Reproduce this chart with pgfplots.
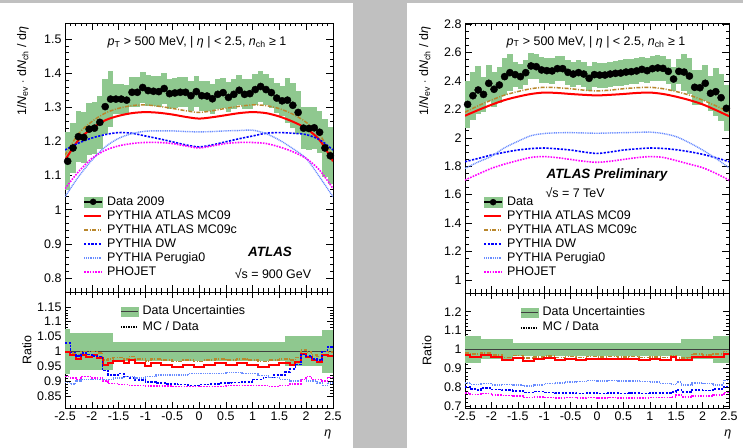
\documentclass[border=0pt]{standalone}
\usepackage{fontspec}
\setmainfont{Liberation Sans}
\usepackage{pgfplots}
\usepackage{pgfplotstable}
\pgfplotsset{compat=1.18}

\definecolor{bg}{RGB}{192,192,192}
\definecolor{band}{RGB}{143,200,143}
\definecolor{mcred}{RGB}{255,0,0}
\definecolor{mcbrown}{RGB}{185,135,45}
\definecolor{dwblue}{RGB}{0,0,255}
\definecolor{perlb}{RGB}{105,140,255}
\definecolor{phomag}{RGB}{255,0,255}

\newcommand{\fnt}{\fontsize{12.5}{14.4}\selectfont}

\pgfplotsset{
  atl/.style={scale only axis, anchor=south west,
    tick align=inside, tick pos=both,
    /pgf/number format/assume math mode=true,
    tick label style={font=\fnt},
    label style={font=\fnt},
    major tick length=7bp, minor tick length=3.5bp,
    xmin=-2.5, xmax=2.5,
    xtick={-2.5,-2,-1.5,-1,-0.5,0,0.5,1,1.5,2,2.5},
    minor x tick num=4,
    axis line style={black, line width=0.7pt},
    every tick/.style={black, line width=0.5pt},
    legend cell align=left,
    legend style={draw=none, fill=none, inner sep=0pt, font=\fnt, row sep=0pt,
      /tikz/every odd column/.append style={column sep=3.5bp},
      nodes={inner sep=0.6bp, text height=9.6bp, text depth=3.2bp}},
  },
  mc09/.style={mcred, line width=2bp, mark=none},
  mc09c/.style={mcbrown, line width=1.5bp, mark=none, dash pattern=on 4bp off 1.5bp on 1bp off 1.5bp},
  dw/.style={dwblue, line width=1.6bp, mark=none, dash pattern=on 2.2bp off 1.4bp},
  per/.style={perlb, line width=1.4bp, mark=none, dash pattern=on 1bp off 0.8bp},
  pho/.style={phomag, line width=1.6bp, mark=none, dash pattern=on 1.6bp off 1.2bp},
  bandbars/.style={draw=none, mark=none, forget plot,
    error bars/.cd, y dir=both, y explicit relative,
    error mark=none, error bar style={draw=band, line width=#1}},
}

% left (900 GeV) data: eta, dN/deta, rel. uncertainty
\pgfplotstableread{
x y e
-2.45 1.142 0.075
-2.35 1.181 0.062
-2.25 1.214 0.062
-2.15 1.212 0.062
-2.05 1.236 0.062
-1.95 1.239 0.062
-1.85 1.256 0.062
-1.75 1.302 0.062
-1.65 1.324 0.062
-1.55 1.324 0.033
-1.45 1.324 0.033
-1.35 1.321 0.033
-1.25 1.344 0.033
-1.15 1.344 0.033
-1.05 1.358 0.033
-0.95 1.349 0.033
-0.85 1.347 0.033
-0.75 1.346 0.033
-0.65 1.355 0.033
-0.55 1.340 0.033
-0.45 1.342 0.033
-0.35 1.344 0.033
-0.25 1.344 0.033
-0.15 1.334 0.033
-0.05 1.346 0.033
0.05 1.334 0.033
0.15 1.333 0.033
0.25 1.325 0.033
0.35 1.338 0.033
0.45 1.343 0.033
0.55 1.329 0.033
0.65 1.338 0.033
0.75 1.350 0.033
0.85 1.338 0.033
0.95 1.340 0.033
1.05 1.352 0.033
1.15 1.361 0.033
1.25 1.352 0.033
1.35 1.343 0.033
1.45 1.327 0.033
1.55 1.319 0.033
1.65 1.321 0.050
1.75 1.306 0.050
1.85 1.285 0.050
1.95 1.239 0.050
2.05 1.238 0.050
2.15 1.240 0.050
2.25 1.227 0.050
2.35 1.181 0.072
2.45 1.158 0.072
}\dataL

% right (7 TeV) data
\pgfplotstableread{
x y e
-2.45 2.235 0.073
-2.35 2.296 0.073
-2.25 2.336 0.073
-2.15 2.305 0.053
-2.05 2.383 0.053
-1.95 2.341 0.053
-1.85 2.371 0.053
-1.75 2.430 0.053
-1.65 2.458 0.053
-1.55 2.444 0.036
-1.45 2.430 0.036
-1.35 2.458 0.036
-1.25 2.505 0.036
-1.15 2.500 0.036
-1.05 2.477 0.036
-0.95 2.472 0.036
-0.85 2.470 0.036
-0.75 2.486 0.036
-0.65 2.486 0.036
-0.55 2.460 0.036
-0.45 2.448 0.036
-0.35 2.458 0.036
-0.25 2.448 0.036
-0.15 2.418 0.036
-0.05 2.444 0.036
0.05 2.441 0.036
0.15 2.441 0.036
0.25 2.448 0.036
0.35 2.453 0.036
0.45 2.455 0.036
0.55 2.462 0.036
0.65 2.465 0.036
0.75 2.470 0.036
0.85 2.481 0.036
0.95 2.472 0.036
1.05 2.486 0.036
1.15 2.491 0.036
1.25 2.488 0.036
1.35 2.467 0.036
1.45 2.413 0.036
1.55 2.467 0.036
1.65 2.462 0.053
1.75 2.434 0.053
1.85 2.355 0.053
1.95 2.352 0.053
2.05 2.383 0.053
2.15 2.313 0.053
2.25 2.324 0.073
2.35 2.282 0.073
2.45 2.207 0.073
}\dataR

\begin{document}
\begin{tikzpicture}
\useasboundingbox (0,0) rectangle (743bp,448bp);
\fill[bg] (0,0) rectangle (743bp,448bp);
\fill[white] (0,0) rectangle (353bp,445bp);
\fill[white] (407bp,0) rectangle (743bp,445bp);

%================ LEFT UPPER =================
\begin{axis}[atl, at={(65bp,156bp)}, width=268bp, height=269bp,
  ymin=0.759, ymax=1.547,
  ytick={0.8,0.9,1,1.1,1.2,1.3,1.4,1.5}, minor y tick num=4,
  xticklabels={},
  ylabel={1/\textit{N}\textsubscript{ev} $\cdot$ d\textit{N}\textsubscript{ch} / d\textit{η}},
  ylabel style={at={(axis description cs:-0.157,1)}, anchor=east},
  legend style={at={(axis description cs:0.067,0.362)}, anchor=north west}]
\addplot[bandbars=5.6bp] table[x=x, y=y, y error=e] {\dataL};
\addplot[mc09, smooth, forget plot] coordinates {(-2.5,1.145) (-2.25,1.204) (-2,1.238) (-1.75,1.262) (-1.5,1.275) (-1.25,1.283) (-1,1.286) (-0.75,1.284) (-0.5,1.279) (-0.25,1.272) (0,1.267) (0.25,1.271) (0.5,1.277) (0.75,1.283) (1,1.286) (1.25,1.283) (1.5,1.273) (1.75,1.258) (2,1.238) (2.25,1.204) (2.5,1.142)};
\addplot[mc09c, smooth, forget plot] coordinates {(-2.5,1.16) (-2.25,1.222) (-2,1.258) (-1.75,1.283) (-1.5,1.297) (-1.25,1.305) (-1,1.307) (-0.75,1.303) (-0.5,1.297) (-0.25,1.29) (0,1.285) (0.25,1.29) (0.5,1.297) (0.75,1.303) (1,1.307) (1.25,1.305) (1.5,1.296) (1.75,1.28) (2,1.256) (2.25,1.22) (2.5,1.155)};
\addplot[dw, smooth, forget plot] coordinates {(-2.5,1.175) (-2.25,1.195) (-2,1.21) (-1.75,1.22) (-1.5,1.226) (-1.25,1.224) (-1,1.216) (-0.75,1.208) (-0.5,1.199) (-0.25,1.19) (0,1.184) (0.25,1.19) (0.5,1.199) (0.75,1.208) (1,1.216) (1.25,1.224) (1.5,1.226) (1.75,1.224) (2,1.22) (2.25,1.205) (2.5,1.175)};
\addplot[per, smooth, forget plot] coordinates {(-2.5,1.038) (-2.25,1.096) (-2,1.145) (-1.75,1.184) (-1.5,1.209) (-1.25,1.223) (-1,1.23) (-0.75,1.231) (-0.5,1.231) (-0.25,1.229) (0,1.228) (0.25,1.229) (0.5,1.231) (0.75,1.232) (1,1.233) (1.25,1.223) (1.5,1.204) (1.75,1.179) (2,1.15) (2.25,1.096) (2.5,1.038)};
\addplot[pho, smooth, forget plot] coordinates {(-2.5,1.062) (-2.25,1.111) (-2,1.15) (-1.75,1.174) (-1.5,1.187) (-1.25,1.194) (-1,1.197) (-0.75,1.197) (-0.5,1.194) (-0.25,1.187) (0,1.181) (0.25,1.187) (0.5,1.194) (0.75,1.197) (1,1.197) (1.25,1.194) (1.5,1.184) (1.75,1.17) (2,1.15) (2.25,1.116) (2.5,1.062)};
\addplot[only marks, mark=*, mark size=3.6bp, black, forget plot] table[x=x, y=y] {\dataL};
\addlegendimage{legend image code/.code={
  \fill[band] (0bp,-5bp) rectangle (18bp,5bp);
  \draw[black, line width=1.6bp] (0bp,0bp) -- (18bp,0bp);
  \fill[black] (9bp,0bp) circle (3bp);}}
\addlegendentry{Data 2009}
\addlegendimage{mc09}\addlegendentry{PYTHIA ATLAS MC09}
\addlegendimage{mc09c}\addlegendentry{PYTHIA ATLAS MC09c}
\addlegendimage{dw}\addlegendentry{PYTHIA DW}
\addlegendimage{per}\addlegendentry{PYTHIA Perugia0}
\addlegendimage{pho}\addlegendentry{PHOJET}
\node[font=\fnt] at (axis description cs:0.4925,0.929) {\textit{p}\textsubscript{T} > 500 MeV, | \textit{η} | < 2.5, \textit{n}\textsubscript{ch} ≥ 1};
\node[font=\fontsize{13.5}{15}\selectfont\bfseries\itshape] at (axis description cs:0.765,0.149) {ATLAS};
\node[font=\fnt] at (axis description cs:0.776,0.067) {√s = 900 GeV};
\end{axis}

%================ LEFT RATIO =================
\begin{axis}[atl, at={(65bp,40bp)}, width=268bp, height=116bp,
  ymin=0.809, ymax=1.2,
  ytick={0.85,0.9,0.95,1,1.05,1.1,1.15}, minor y tick num=4,
  major tick length=6bp, minor tick length=3bp,
  ylabel={Ratio},
  ylabel style={at={(axis description cs:-0.142,0.5)}, anchor=center},
  xlabel={\textit{η}},
  xlabel style={at={(axis description cs:0.981,-0.224)}, anchor=center},
  legend style={at={(axis description cs:0.205,0.895)}, anchor=north west, row sep=1.5bp}]
\addplot[bandbars=5.6bp] table[x=x, y expr=1, y error=e] {\dataL};
\addplot[black!75, line width=0.8bp, forget plot] coordinates {(-2.5,1) (2.5,1)};
\addplot[mc09c, const plot mark left, forget plot] coordinates {(-2.5,1.0) (-2.4,0.995) (-2.3,0.99) (-2.2,1.0) (-2.0,1.0) (-1.9,0.995) (-1.8,0.97) (-1.7,0.975) (-1.6,0.98) (-1.4,0.975) (-1.3,0.983) (-1.2,0.975) (-1.0,0.968) (-0.9,0.975) (-0.7,0.97) (-0.5,0.966) (-0.3,0.97) (-0.1,0.965) (0.1,0.97) (0.3,0.975) (0.5,0.97) (0.7,0.975) (0.9,0.97) (1.1,0.965) (1.3,0.97) (1.5,0.975) (1.7,0.97) (1.8,0.98) (1.9,1.005) (2.0,0.998) (2.1,0.988) (2.2,0.982) (2.3,1.0) (2.4,0.998) (2.5,0.998)};
\addplot[mc09, const plot mark left, forget plot] coordinates {(-2.5,0.998) (-2.4,0.987) (-2.3,0.973) (-2.2,0.987) (-2.1,0.981) (-2.0,0.987) (-1.9,0.979) (-1.8,0.953) (-1.7,0.959) (-1.6,0.967) (-1.4,0.962) (-1.3,0.97) (-1.2,0.959) (-1.0,0.95) (-0.9,0.959) (-0.7,0.953) (-0.5,0.948) (-0.3,0.953) (-0.1,0.946) (0.1,0.953) (0.3,0.959) (0.5,0.953) (0.7,0.959) (0.9,0.953) (1.1,0.946) (1.3,0.953) (1.5,0.961) (1.7,0.953) (1.8,0.964) (1.9,0.99) (2.0,0.981) (2.1,0.97) (2.2,0.964) (2.3,0.987) (2.4,0.983) (2.5,0.983)};
\addplot[dw, const plot mark left, forget plot] coordinates {(-2.5,1.028) (-2.4,0.996) (-2.3,0.985) (-2.2,0.995) (-2.1,0.99) (-2.0,0.985) (-1.9,0.982) (-1.8,0.935) (-1.7,0.92) (-1.5,0.925) (-1.4,0.915) (-1.3,0.91) (-1.2,0.903) (-1.0,0.897) (-0.8,0.893) (-0.6,0.89) (-0.4,0.888) (-0.2,0.885) (0,0.888) (0.2,0.89) (0.4,0.893) (0.6,0.895) (0.8,0.897) (1.0,0.905) (1.2,0.912) (1.4,0.92) (1.6,0.93) (1.7,0.94) (1.8,0.955) (1.9,0.99) (2.0,0.985) (2.1,0.975) (2.2,0.97) (2.3,1.0) (2.4,1.015) (2.5,1.015)};
\addplot[per, const plot mark left, forget plot] coordinates {(-2.5,0.895) (-2.4,0.89) (-2.3,0.9) (-2.2,0.905) (-2.0,0.905) (-1.8,0.905) (-1.6,0.91) (-1.4,0.915) (-1.2,0.91) (-1.0,0.915) (-0.8,0.92) (-0.5,0.92) (-0.2,0.925) (0.2,0.925) (0.5,0.928) (0.8,0.925) (1.1,0.918) (1.3,0.912) (1.5,0.905) (1.7,0.9) (1.9,0.905) (2.0,0.9) (2.2,0.893) (2.3,0.885) (2.4,0.893) (2.5,0.893)};
\addplot[pho, const plot mark left, forget plot] coordinates {(-2.5,0.915) (-2.4,0.91) (-2.3,0.905) (-2.2,0.915) (-2.0,0.91) (-1.8,0.9) (-1.7,0.892) (-1.5,0.888) (-1.3,0.885) (-1.0,0.883) (-0.5,0.882) (0,0.882) (0.5,0.885) (1.0,0.885) (1.3,0.882) (1.5,0.885) (1.7,0.89) (1.9,0.905) (2.0,0.915) (2.1,0.905) (2.3,0.9) (2.4,0.912) (2.5,0.912)};
\addlegendimage{legend image code/.code={
  \fill[band] (0bp,-4.5bp) rectangle (17bp,4.5bp);
  \draw[black!75, line width=0.8bp] (0bp,0bp) -- (17bp,0bp);}}
\addlegendentry{Data Uncertainties}
\addlegendimage{black, line width=1.5bp, mark=none, dash pattern=on 1.5bp off 1bp}
\addlegendentry{MC / Data}
\end{axis}

%================ RIGHT UPPER =================
\begin{axis}[atl, at={(465bp,155bp)}, width=264bp, height=270bp,
  ymin=0.909, ymax=2.807,
  ytick={1,1.2,1.4,1.6,1.8,2,2.2,2.4,2.6,2.8}, minor y tick num=3,
  xticklabels={},
  ylabel={1/\textit{N}\textsubscript{ev} $\cdot$ d\textit{N}\textsubscript{ch} / d\textit{η}},
  ylabel style={at={(axis description cs:-0.152,1)}, anchor=east},
  legend style={at={(axis description cs:0.068,0.363)}, anchor=north west}]
\addplot[bandbars=5.5bp] table[x=x, y=y, y error=e] {\dataR};
\addplot[mc09, smooth, forget plot] coordinates {(-2.5,2.155) (-2.25,2.195) (-2,2.232) (-1.75,2.265) (-1.5,2.289) (-1.25,2.308) (-1,2.318) (-0.75,2.315) (-0.5,2.308) (-0.25,2.302) (0,2.298) (0.25,2.302) (0.5,2.308) (0.75,2.315) (1,2.318) (1.25,2.308) (1.5,2.289) (1.75,2.265) (2,2.235) (2.25,2.195) (2.5,2.152)};
\addplot[mc09c, smooth, forget plot] coordinates {(-2.5,2.18) (-2.25,2.225) (-2,2.265) (-1.75,2.3) (-1.5,2.325) (-1.25,2.345) (-1,2.355) (-0.75,2.352) (-0.5,2.345) (-0.25,2.335) (0,2.33) (0.25,2.335) (0.5,2.345) (0.75,2.352) (1,2.355) (1.25,2.345) (1.5,2.325) (1.75,2.3) (2,2.265) (2.25,2.225) (2.5,2.18)};
\addplot[dw, smooth, forget plot] coordinates {(-2.5,1.832) (-2.25,1.855) (-2,1.879) (-1.75,1.898) (-1.5,1.914) (-1.25,1.924) (-1,1.928) (-0.75,1.922) (-0.5,1.914) (-0.25,1.9) (0,1.89) (0.25,1.9) (0.5,1.914) (0.75,1.922) (1,1.928) (1.25,1.925) (1.5,1.916) (1.75,1.902) (2,1.884) (2.25,1.86) (2.5,1.832)};
\addplot[per, smooth, forget plot] coordinates {(-2.5,1.785) (-2.25,1.83) (-2,1.87) (-1.75,1.93) (-1.5,1.975) (-1.25,2.015) (-1,2.03) (-0.75,2.035) (-0.5,2.036) (-0.25,2.034) (0,2.032) (0.25,2.034) (0.5,2.036) (0.75,2.038) (1,2.04) (1.25,2.03) (1.5,2.008) (1.75,1.965) (2,1.914) (2.25,1.855) (2.5,1.79)};
\addplot[pho, smooth, forget plot] coordinates {(-2.5,1.703) (-2.25,1.745) (-2,1.785) (-1.75,1.815) (-1.5,1.84) (-1.25,1.862) (-1,1.868) (-0.75,1.86) (-0.5,1.848) (-0.25,1.835) (0,1.828) (0.25,1.835) (0.5,1.848) (0.75,1.86) (1,1.868) (1.25,1.862) (1.5,1.84) (1.75,1.815) (2,1.79) (2.25,1.75) (2.5,1.703)};
\addplot[only marks, mark=*, mark size=3.6bp, black, forget plot] table[x=x, y=y] {\dataR};
\addlegendimage{legend image code/.code={
  \fill[band] (0bp,-5bp) rectangle (18bp,5bp);
  \draw[black, line width=1.6bp] (0bp,0bp) -- (18bp,0bp);
  \fill[black] (9bp,0bp) circle (3bp);}}
\addlegendentry{Data}
\addlegendimage{mc09}\addlegendentry{PYTHIA ATLAS MC09}
\addlegendimage{mc09c}\addlegendentry{PYTHIA ATLAS MC09c}
\addlegendimage{dw}\addlegendentry{PYTHIA DW}
\addlegendimage{per}\addlegendentry{PYTHIA Perugia0}
\addlegendimage{pho}\addlegendentry{PHOJET}
\node[font=\fnt] at (axis description cs:0.496,0.93) {\textit{p}\textsubscript{T} > 500 MeV, | \textit{η} | < 2.5, \textit{n}\textsubscript{ch} ≥ 1};
\node[font=\fontsize{13.5}{15}\selectfont\bfseries\itshape] at (axis description cs:0.538,0.437) {ATLAS Preliminary};
\node[font=\fnt] at (axis description cs:0.417,0.37) {√s = 7 TeV};
\end{axis}

%================ RIGHT RATIO =================
\begin{axis}[atl, at={(465bp,40bp)}, width=264bp, height=115bp,
  ymin=0.689, ymax=1.299,
  ytick={0.7,0.8,0.9,1,1.1,1.2}, minor y tick num=4,
  major tick length=6bp, minor tick length=3bp,
  ylabel={Ratio},
  ylabel style={at={(axis description cs:-0.144,0.5)}, anchor=center},
  xlabel={\textit{η}},
  xlabel style={at={(axis description cs:0.996,-0.226)}, anchor=center},
  legend style={at={(axis description cs:0.208,0.895)}, anchor=north west, row sep=1.5bp}]
\addplot[bandbars=5.5bp] table[x=x, y expr=1, y error=e] {\dataR};
\addplot[black!75, line width=0.8bp, forget plot] coordinates {(-2.5,1) (2.5,1)};
\addplot[mc09c, const plot mark left, forget plot] coordinates {(-2.5,0.982) (-2.4,0.975) (-2.2,0.98) (-2.0,0.97) (-1.8,0.958) (-1.6,0.967) (-1.4,0.953) (-1.2,0.96) (-1.0,0.964) (-0.8,0.958) (-0.6,0.962) (-0.4,0.958) (-0.2,0.962) (0,0.96) (0.2,0.962) (0.4,0.959) (0.6,0.961) (0.8,0.958) (1.0,0.96) (1.2,0.957) (1.4,0.968) (1.5,0.955) (1.7,0.958) (1.8,0.975) (2.0,0.97) (2.2,0.975) (2.4,0.99) (2.5,0.99)};
\addplot[mc09, const plot mark left, forget plot] coordinates {(-2.5,0.968) (-2.4,0.96) (-2.2,0.968) (-2.0,0.957) (-1.8,0.945) (-1.6,0.955) (-1.4,0.94) (-1.2,0.948) (-1.0,0.952) (-0.8,0.946) (-0.6,0.95) (-0.4,0.946) (-0.2,0.95) (0,0.948) (0.2,0.95) (0.4,0.947) (0.6,0.949) (0.8,0.946) (1.0,0.948) (1.2,0.945) (1.4,0.957) (1.5,0.942) (1.7,0.946) (1.8,0.962) (2.0,0.958) (2.2,0.962) (2.4,0.978) (2.5,0.978)};
\addplot[per, const plot mark left, forget plot] coordinates {(-2.5,0.822) (-2.4,0.815) (-2.2,0.82) (-2.0,0.812) (-1.8,0.815) (-1.6,0.812) (-1.4,0.806) (-1.2,0.812) (-1.0,0.818) (-0.8,0.822) (-0.6,0.826) (-0.4,0.83) (-0.2,0.836) (0,0.832) (0.2,0.834) (0.4,0.832) (0.6,0.833) (0.8,0.83) (1.0,0.826) (1.2,0.82) (1.4,0.815) (1.5,0.826) (1.6,0.812) (1.8,0.822) (2.0,0.818) (2.2,0.812) (2.4,0.835) (2.5,0.835)};
\addplot[dw, const plot mark left, forget plot] coordinates {(-2.5,0.8) (-2.4,0.79) (-2.3,0.785) (-2.2,0.795) (-2.0,0.787) (-1.8,0.783) (-1.6,0.78) (-1.4,0.772) (-1.2,0.776) (-1.0,0.772) (-0.8,0.768) (-0.6,0.77) (-0.4,0.766) (-0.2,0.768) (0,0.765) (0.2,0.767) (0.4,0.765) (0.6,0.767) (0.8,0.766) (1.0,0.768) (1.2,0.77) (1.4,0.774) (1.5,0.785) (1.6,0.774) (1.8,0.785) (2.0,0.782) (2.2,0.79) (2.4,0.803) (2.5,0.803)};
\addplot[pho, const plot mark left, forget plot] coordinates {(-2.5,0.768) (-2.4,0.76) (-2.2,0.765) (-2.0,0.757) (-1.8,0.755) (-1.6,0.752) (-1.4,0.745) (-1.2,0.748) (-1.0,0.745) (-0.8,0.743) (-0.6,0.745) (-0.4,0.742) (-0.2,0.744) (0,0.742) (0.2,0.744) (0.4,0.742) (0.6,0.743) (0.8,0.742) (1.0,0.744) (1.2,0.745) (1.4,0.748) (1.5,0.758) (1.6,0.748) (1.8,0.754) (2.0,0.752) (2.2,0.758) (2.4,0.772) (2.5,0.772)};
\addlegendimage{legend image code/.code={
  \fill[band] (0bp,-4.5bp) rectangle (17bp,4.5bp);
  \draw[black!75, line width=0.8bp] (0bp,0bp) -- (17bp,0bp);}}
\addlegendentry{Data Uncertainties}
\addlegendimage{black, line width=1.5bp, mark=none, dash pattern=on 1.5bp off 1bp}
\addlegendentry{MC / Data}
\end{axis}
\end{tikzpicture}
\end{document}
